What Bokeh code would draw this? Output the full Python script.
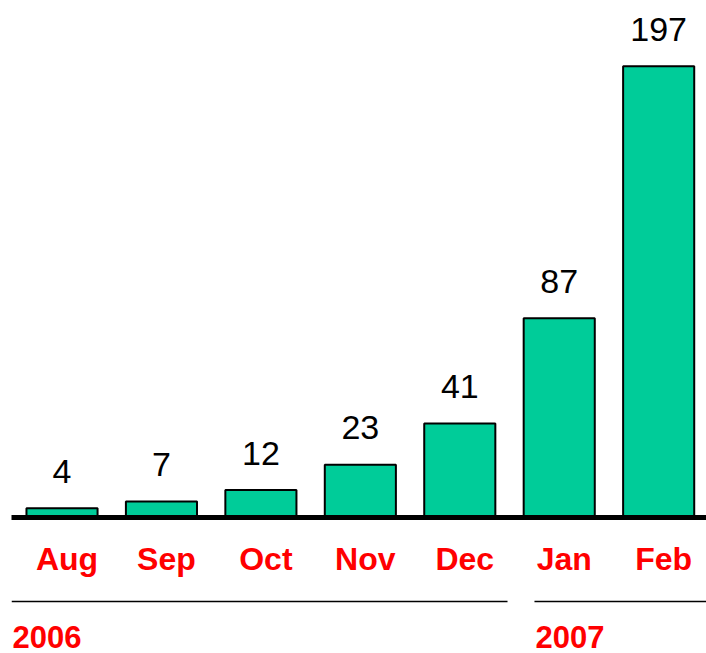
from bokeh.plotting import figure
from bokeh.models import Range1d, ColumnDataSource, Span
from bokeh.core.properties import value
from bokeh.embed import file_html
from bokeh.resources import INLINE

months = ["Aug", "Sep", "Oct", "Nov", "Dec", "Jan", "Feb"]
counts = [4, 7, 12, 23, 41, 87, 197]
years = ["2006", "2007"]
year_first = [0, 5]   # index of first month of each year
year_last = [4, 6]    # index of last month of each year

FONT = value("Liberation Sans")
BAR_COLOR = "#00CC99"
RED = "#FF0000"

xs = list(range(len(months)))
src = ColumnDataSource(dict(x=xs, top=counts, label=[str(c) for c in counts], month=months))

K = 2.29  # px per unit
p = figure(width=706, height=653, output_backend="svg", toolbar_location=None,
           x_range=Range1d(-0.508, 6.481), y_range=Range1d(-136 / K, 517 / K),
           x_axis_location=None, y_axis_location=None,
           min_border=0, min_border_left=11, outline_line_color=None)
p.xgrid.visible = False
p.ygrid.visible = False
p.background_fill_color = "white"
p.border_fill_color = "white"

p.vbar(x="x", top="top", bottom=0, width=0.715, source=src,
       fill_color=BAR_COLOR, line_color="black", line_width=2)

p.add_layout(Span(location=0, dimension="width", line_color="black",
                  line_width=5, line_cap="round"))

# value labels
p.text(x="x", y="top", text="label", source=src, text_font=FONT,
       text_font_size="34px", text_color="black", text_align="center",
       text_baseline="alphabetic", y_offset=-37)

# month labels
p.text(x="x", y=0, text="month", source=src, text_font=FONT,
       text_font_size="32px", text_font_style="bold", text_color=RED,
       text_align="center", text_baseline="alphabetic", x_offset=5, y_offset=41)

# year group lines and labels
x0 = [f - 0.508 if i == 0 else f - 0.249 for i, f in enumerate(year_first)]
x1 = [l + 0.48 if i == 0 else l + 0.6 for i, l in enumerate(year_last)]
p.segment(x0=x0, x1=x1, y0=[-84 / K] * 2, y1=[-84 / K] * 2,
          line_color="black", line_width=1.5)
p.text(x=[v + 0.01 for v in x0], y=[0, 0], text=years, text_font=FONT,
       text_font_size="31px", text_font_style="bold", text_color=RED,
       text_align="left", text_baseline="alphabetic", y_offset=119)

open("out.html", "w").write(file_html(p, INLINE))
